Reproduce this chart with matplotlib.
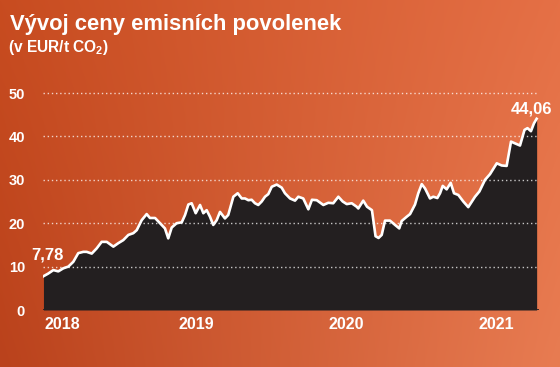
import numpy as np
import matplotlib
matplotlib.use("Agg")
import matplotlib.pyplot as plt

plt.rcParams['font.family'] = ['Liberation Sans', 'DejaVu Sans']
plt.rcParams['mathtext.fontset'] = 'custom'
plt.rcParams['mathtext.rm'] = 'Liberation Sans:bold'
plt.rcParams['mathtext.it'] = 'Liberation Sans:bold'
plt.rcParams['mathtext.bf'] = 'Liberation Sans:bold'

# Dates as decimal years, price in EUR/t CO2
dates = [2017.983, 2018.015, 2018.049, 2018.082, 2018.115, 2018.149, 2018.182, 2018.215,
         2018.249, 2018.271, 2018.305, 2018.338, 2018.371, 2018.405, 2018.449, 2018.482,
         2018.515, 2018.549, 2018.582, 2018.605, 2018.638, 2018.671, 2018.693, 2018.727,
         2018.760, 2018.793, 2018.815, 2018.838, 2018.871, 2018.905, 2018.927, 2018.949,
         2018.971, 2018.998, 2019.027, 2019.049, 2019.071, 2019.093, 2019.115, 2019.138,
         2019.160, 2019.193, 2019.215, 2019.249, 2019.278, 2019.305, 2019.327, 2019.349,
         2019.371, 2019.393, 2019.415, 2019.438, 2019.460, 2019.482, 2019.505, 2019.538,
         2019.571, 2019.593, 2019.627, 2019.660, 2019.682, 2019.715, 2019.749, 2019.773,
         2019.805, 2019.849, 2019.882, 2019.915, 2019.949, 2019.978, 2020.005, 2020.038,
         2020.071, 2020.082, 2020.115, 2020.140, 2020.173, 2020.197, 2020.217, 2020.238,
         2020.260, 2020.293, 2020.327, 2020.355, 2020.371, 2020.405, 2020.427, 2020.460,
         2020.482, 2020.505, 2020.527, 2020.560, 2020.582, 2020.609, 2020.627, 2020.645,
         2020.671, 2020.698, 2020.720, 2020.749, 2020.782, 2020.815, 2020.860, 2020.889,
         2020.927, 2020.960, 2021.005, 2021.038, 2021.071, 2021.100, 2021.133, 2021.160,
         2021.190, 2021.210, 2021.233, 2021.253, 2021.271]
prices = [7.78, 8.4, 9.2, 8.9, 9.6, 10.0, 11.1, 13.1,
          13.4, 13.4, 13.0, 14.2, 15.7, 15.7, 14.6, 15.4,
          16.1, 17.3, 17.7, 18.4, 20.7, 22.1, 21.2, 21.2,
          20.0, 18.8, 16.5, 19.0, 20.0, 20.2, 21.9, 24.3,
          24.6, 22.3, 24.2, 22.3, 23.0, 21.5, 19.6, 20.7,
          22.6, 21.1, 21.9, 26.1, 26.9, 25.7, 25.7, 25.3,
          25.4, 24.6, 24.2, 25.0, 26.1, 26.7, 28.4, 28.9,
          28.2, 26.9, 25.7, 25.2, 26.1, 25.7, 23.2, 25.4,
          25.3, 24.2, 24.7, 24.6, 26.1, 25.0, 24.4, 24.6,
          23.8, 23.4, 25.2, 23.8, 23.0, 17.0, 16.6, 17.3,
          20.6, 20.6, 19.6, 18.8, 20.5, 21.5, 22.1, 24.3,
          26.9, 29.0, 28.0, 25.7, 26.1, 25.8, 26.9, 28.6,
          27.8, 29.3, 26.9, 26.5, 25.0, 23.7, 26.1, 27.3,
          30.0, 31.3, 33.8, 33.3, 33.2, 38.8, 38.3, 37.9,
          41.5, 41.9, 41.2, 43.0, 44.06]

y_ticks = [0, 10, 20, 30, 40, 50]
grid_levels = [10, 20, 30, 40, 50]
year_tick_pos = [2018.11, 2019.0, 2020.0, 2021.0]
year_labels = ["2018", "2019", "2020", "2021"]
first_label = "7,78"
last_label = "44,06"

W, H = 560, 367
fig = plt.figure(figsize=(W / 100, H / 100), dpi=100)

# background gradient
bg = fig.add_axes([0, 0, 1, 1], zorder=0)
gx = np.linspace(0, 1, 280)[None, :]
gy = np.linspace(0, 1, 184)[:, None]  # 0 top, 1 bottom
left_top = np.array([200, 76, 32]) / 255
left_bot = np.array([186, 66, 28]) / 255
right_top = np.array([229, 112, 70]) / 255
right_bot = np.array([232, 124, 82]) / 255
top = left_top[None, None, :] * (1 - gx[..., None]) + right_top[None, None, :] * gx[..., None]
bot = left_bot[None, None, :] * (1 - gx[..., None]) + right_bot[None, None, :] * gx[..., None]
img = top * (1 - gy[..., None]) + bot * gy[..., None]
bg.imshow(img, aspect='auto', extent=[0, 1, 0, 1], interpolation='bilinear')
bg.axis('off')

# main axes (pixels: left 43, right 539, y0 at 310, 4.34 px per unit)
ymax = 52
ax_left, ax_right = 43, 539
ax_bottom = H - 310
ax_height = ymax * 4.34
ax = fig.add_axes([ax_left / W, ax_bottom / H, (ax_right - ax_left) / W, ax_height / H], zorder=1)
ax.set_facecolor('none')
ax.set_xlim(2018 + (ax_left - 46) / 150, 2018 + (ax_right - 46) / 150)
ax.set_ylim(0, ymax)

ax.fill_between(dates, prices, 0, color='#231f20', lw=0, zorder=2)
ax.hlines(grid_levels, dates[0], dates[-1], colors='white', linestyles=(0, (1, 2)),
          lw=1.0, alpha=0.75, zorder=3)
ax.plot(dates, prices, color='white', lw=1.9, zorder=4, solid_joinstyle='round')
ax.axhline(0, color='#231f20', lw=2, zorder=5)

for s in ax.spines.values():
    s.set_visible(False)
ax.set_yticks(y_ticks)
ax.set_yticklabels([str(v) for v in y_ticks])
ax.set_xticks(year_tick_pos)
ax.set_xticklabels(year_labels)
ax.tick_params(axis='y', length=0, pad=13, labelcolor='white', labelsize=10.5)
ax.tick_params(axis='x', length=0, pad=5, labelcolor='white', labelsize=11.5)
for lab in ax.get_yticklabels() + ax.get_xticklabels():
    lab.set_fontweight('bold')

ax.annotate(first_label, xy=(dates[0], prices[0]), xytext=(3.2, 11.7),
            textcoords='offset points', ha='center', va='baseline',
            color='white', fontsize=12, fontweight='bold', zorder=6)
ax.annotate(last_label, xy=(dates[-1], prices[-1]), xytext=(-3.7, 3.5),
            textcoords='offset points', ha='center', va='baseline',
            color='white', fontsize=12, fontweight='bold', zorder=6)

fig.text(10 / W, 1 - 30 / H, "Vývoj ceny emisních povolenek", ha='left', va='baseline',
         color='white', fontsize=15.8, fontweight='bold')
fig.text(8 / W, 1 - 51.7 / H, "(v EUR/t CO$_2$)", ha='left', va='baseline',
         color='white', fontsize=11.2, fontweight='bold')

fig.savefig("out.png", dpi=100)
